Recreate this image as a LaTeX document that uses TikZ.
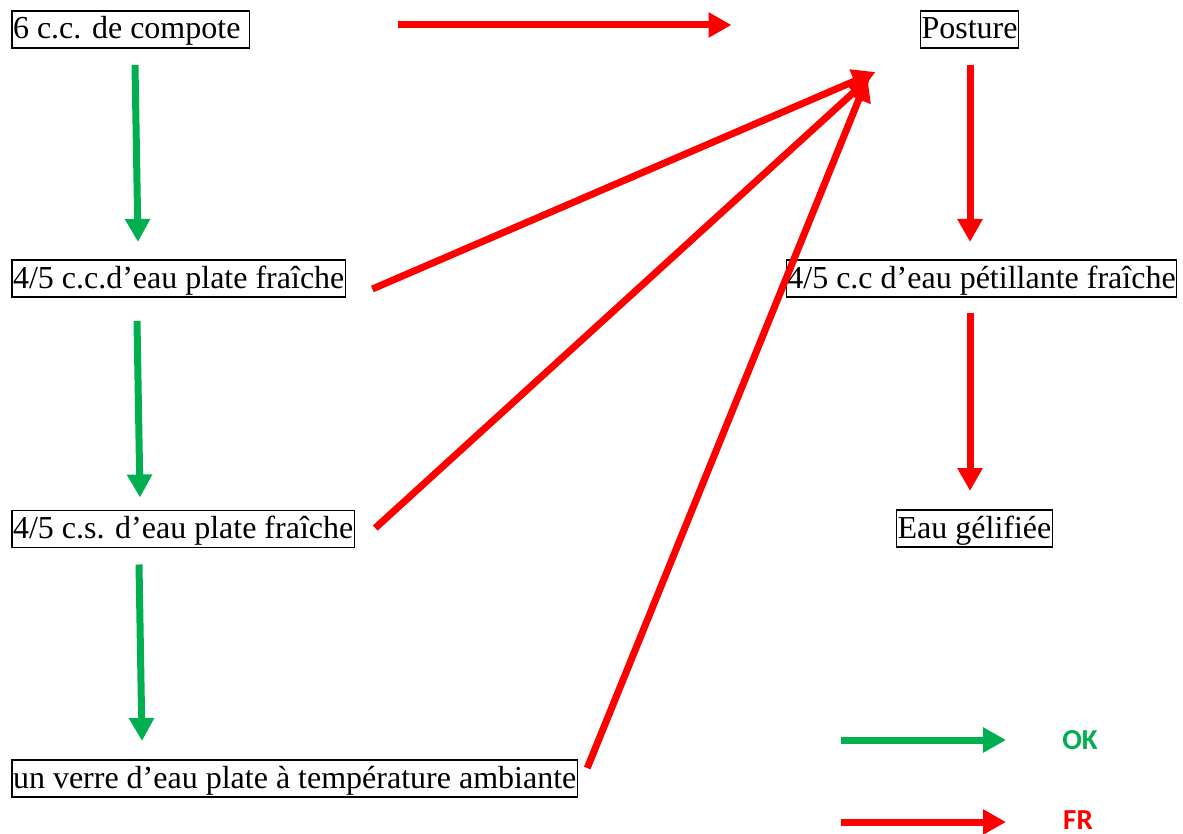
\documentclass[tikz,border=0pt]{standalone}
\usepackage{fontspec}
\setmainfont{Liberation Serif}
\newfontfamily\legendfont{Carlito}
\usepackage{tikz}
\usetikzlibrary{arrows.meta,calc,positioning}
\definecolor{okgreen}{HTML}{00B050}
\definecolor{frred}{HTML}{FF0000}
\newdimen\hdim
\newdimen\tdim
\hdim=13pt
\tdim=3.5pt
\tikzstyle{element}=[
  draw=black,
  line width=.75pt,
  font={\fontsize{16pt}{19pt}\selectfont},
  inner xsep=.5pt,
  inner ysep=1pt,
  text height=\hdim,
  text depth=\tdim,
  outer sep=0pt,
  rectangle,
]
\tikzstyle{okarrow}=[
  ->,
  color=okgreen,
  line width=3.5pt,
]
\tikzstyle{frarrow}=[
  ->,
  color=frred,
  line width=3.5pt,
]
\tikzstyle{legendlabel}=[
  font={\legendfont\bfseries\fontsize{14.5pt}{16pt}\selectfont},
  inner sep=0pt,
]
\tikzset{
  x=.5pt,
  y=-.5pt,
  >={Triangle[length=11.5pt,width=12pt]},
}
\begin{document}
\begin{tikzpicture}
      \useasboundingbox (0,0) rectangle (1183,834);
      \node (compote) [element, anchor=west] at (12,29.5) {6 c.c. de compote\ \null};
      \node (plate) [element, anchor=west] at (12,278.5) {4/5 c.c.d’eau plate fraîche};
      \node (cuillere) [element, anchor=west] at (12,529) {4/5 c.s. d’eau plate fraîche};
      \node (verre) [element, anchor=west] at (12,778.5) {un verre d’eau plate à température ambiante};
      %%
      \node (posture) [element] at (969.5,29.5) {Posture};
      \node (petillante) [element] at (981.5,278.5) {4/5 c.c d’eau pétillante fraîche};
      \node (gelifiee) [element] at (974.5,528.5) {Eau gélifiée};
      %%
      \draw [okarrow] ($(compote.south west)+(123,17)$) -- ($(plate.north west)+(126,-18)$);
      \draw [okarrow] ($(plate.south west)+(125,24)$) -- ($(cuillere.north west)+(128,-13)$);
      \draw [okarrow] ($(cuillere.south west)+(127,17)$) -- ($(verre.north west)+(130,-19)$);
      %%
      \draw [frarrow] ($(compote.east)+(149,-4.5)$) -- ($(posture.west)+(-189,-4.5)$);
      \draw [frarrow] ($(posture.south)+(.5,17)$) -- ($(petillante.north)+(-11.5,-18)$);
      \draw [frarrow] ($(petillante.south)+(-11.5,16)$) -- ($(gelifiee.north)+(-4.5,-19)$);
      \draw [frarrow] ($(plate.east)+(27,10.5)$) -- ($(posture.south west)+(-45,24)$);
      \draw [frarrow] ($(cuillere.east)+(21,-1)$) -- ($(posture.south west)+(-50,29)$);
      \draw [frarrow] ($(verre.east)+(10,-10.5)$) -- ($(posture.south west)+(-53,30)$);
      %%
      \node (ok) [legendlabel, okgreen] at (1080,740) {OK};
      \node (fr) [legendlabel, frred] at (1078,820) {FR};
      \coordinate (okstart) at (841,740);
      \coordinate (okend) at (1006,740);
      \coordinate (frstart) at (841,822);
      \coordinate (frend) at (1006,822);
      \draw [okarrow] (okstart) -- (okend);
      \draw [frarrow] (frstart) -- (frend);
    \end{tikzpicture}
\end{document}
